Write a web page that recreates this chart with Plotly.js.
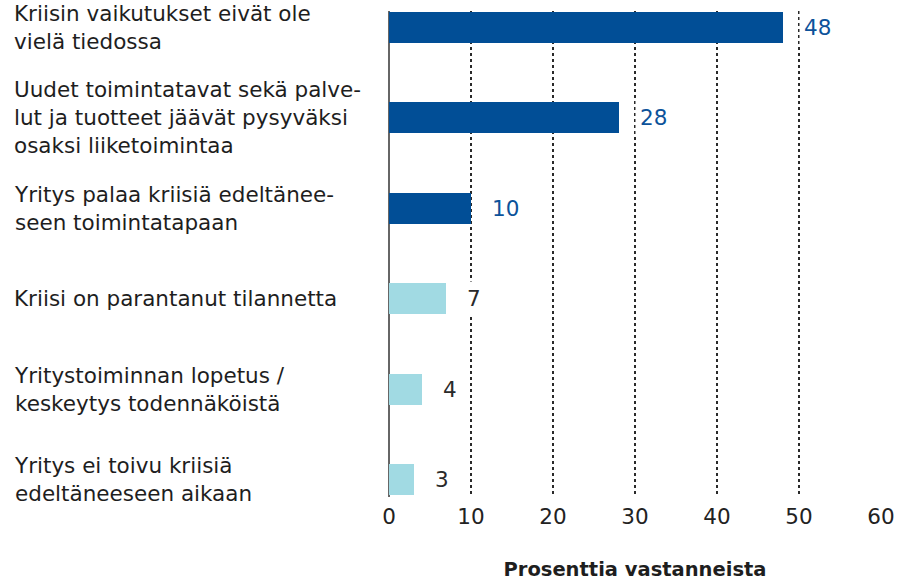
<!DOCTYPE html>
<html>
<head>
<meta charset="utf-8">
<script src="https://cdn.plot.ly/plotly-3.0.1.min.js"></script>
<style>html,body{margin:0;padding:0;background:#fff;}#chart{width:897px;height:587px;}</style>
</head>
<body>
<div id="chart"></div>
<script>
const categories = [
  "Kriisin vaikutukset eivät ole<br>vielä tiedossa",
  "Uudet toimintatavat sekä palve-<br>lut ja tuotteet jäävät pysyväksi<br>osaksi liiketoimintaa",
  "Yritys palaa kriisiä edeltänee-<br>seen toimintatapaan",
  "Kriisi on parantanut tilannetta",
  "Yritystoiminnan lopetus /<br>keskeytys todennäköistä",
  "Yritys ei toivu kriisiä<br>edeltäneeseen aikaan"
];
const values = [48, 28, 10, 7, 4, 3];
const groups = ["A", "A", "A", "B", "B", "B"];
const xTicks = [0, 10, 20, 30, 40, 50, 60];
const xTitle = "Prosenttia vastanneista";

const barColor = {A: "#014e96", B: "#a1dae3"};
const labelColor = {A: "#0c529a", B: "#2a2a2a"};
const FONT = "DejaVu Sans, Liberation Sans, Arial, sans-serif";
const idx = categories.map((c, i) => i);

const trace = {
  type: "bar",
  orientation: "h",
  x: values,
  y: idx,
  width: 0.34,
  marker: {color: groups.map(g => barColor[g]), line: {width: 0}},
  hoverinfo: "none"
};

const ml = 389, mr = 16;
const plotW = 897 - ml - mr;
const annotations = [];
idx.forEach(i => {
  annotations.push({
    xref: "paper", yref: "y",
    x: -(ml - 12) / plotW, y: i,
    xanchor: "left", yanchor: "middle", align: "left",
    text: categories[i], showarrow: false,
    font: {family: FONT, size: 21.5, color: "#1e1e1e"}
  });
  annotations.push({
    xref: "x", yref: "y",
    x: values[i], y: i,
    xanchor: "left", yanchor: "middle",
    xshift: 16,
    text: String(values[i]), showarrow: false,
    bgcolor: "#ffffff", borderpad: 4,
    font: {family: FONT, size: 21.5, color: labelColor[groups[i]]}
  });
});

const layout = {
  width: 897, height: 587,
  margin: {l: ml, r: mr, t: 11, b: 90},
  paper_bgcolor: "#ffffff", plot_bgcolor: "#ffffff",
  showlegend: false,
  bargap: 0,
  xaxis: {
    range: [0, 60],
    tickvals: xTicks,
    ticktext: xTicks.map(String),
    showgrid: true, gridcolor: "#2a2a2a", gridwidth: 1.5, griddash: "dot",
    zeroline: true, zerolinecolor: "#666666", zerolinewidth: 2,
    showline: false, ticks: "",
    tickfont: {family: FONT, size: 21.5, color: "#222222"},
    ticklabelstandoff: 4,
    title: {text: "<b>" + xTitle + "</b>", font: {family: FONT, size: 19.5, color: "#1e1e1e"}, standoff: 34},
    fixedrange: true
  },
  yaxis: {
    range: [5.19, -0.18],
    showgrid: false, zeroline: false, showline: false,
    showticklabels: false, ticks: "",
    fixedrange: true
  },
  annotations: annotations
};

Plotly.newPlot("chart", [trace], layout, {displayModeBar: false, staticPlot: true});
</script>
</body>
</html>
